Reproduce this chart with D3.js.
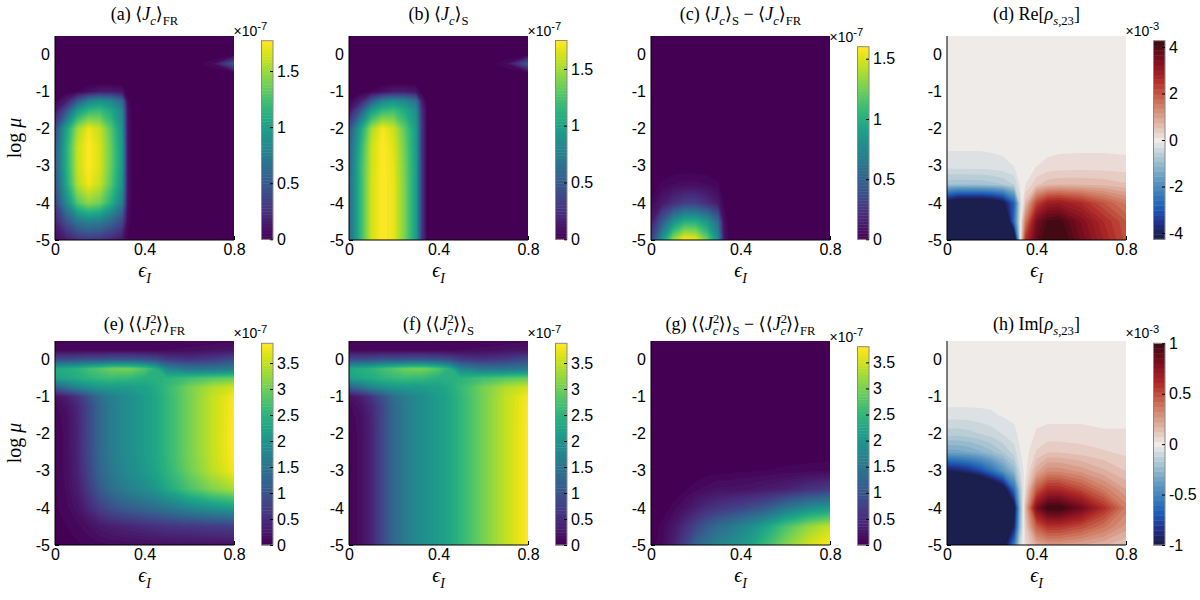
<!DOCTYPE html>
<html>
<head>
<meta charset="utf-8">
<script src="https://cdn.jsdelivr.net/npm/d3@7"></script>
<style>
  body { margin: 0; background: #fff; }
  svg { display: block; }
  .tick text { font-family: "Liberation Sans", Arial, Helvetica, sans-serif; font-size: 16px; fill: #000; }
  .tick line { stroke: #000; }
  .serif { font-family: "Liberation Serif", "DejaVu Serif", serif; fill: #000; }
  .sans { font-family: "Liberation Sans", Arial, Helvetica, sans-serif; fill: #000; }
</style>
</head>
<body>
<svg id="chart" width="1200" height="600"></svg>
<script>
// sample grid of every field: epsilon_I across, log mu down (top row first)
var epsGrid = [0, 0.05, 0.1, 0.15, 0.2, 0.25, 0.3, 0.325, 0.35, 0.4, 0.45, 0.5, 0.6, 0.7, 0.8];
var muGrid = [0.5, 0.25, 0, -0.25, -0.5, -0.75, -1, -1.25, -1.5, -2, -2.5, -3, -3.5, -4, -4.5, -5];

var epsTicks = [0, 0.4, 0.8];
var muTicks = [0, -1, -2, -3, -4, -5];

// (a) <Jc>_FR  (x 1e-7)
var jcFR = [
  [0,0,0,0,0,0,0,0,0,0,0,0,0,0,0],
  [0,0,0,0,0,0,0,0,0,0,0,0,0,0,0],
  [0,0,0,0,0,0,0,0,0,0,0,0,0,0,0],
  [0,0,0,0,0,0,0,0,0,0,0,0,0,0.05,0.5],
  [0,0,0,0,0,0,0,0,0,0,0,0,0,0,0],
  [0,0,0,0,0,0,0,0,0,0,0,0,0,0,0],
  [0,0,0.03,0.08,0.14,0.14,0.1,0,0,0,0,0,0,0,0],
  [0.02,0.15,0.5,0.8,0.88,0.82,0.6,0.05,0,0,0,0,0,0,0],
  [0.1,0.45,0.95,1.15,1.2,1.05,0.8,0.08,0,0,0,0,0,0,0],
  [0.4,1.0,1.5,1.72,1.6,1.3,0.9,0.1,0,0,0,0,0,0,0],
  [0.5,1.1,1.6,1.77,1.65,1.35,0.95,0.1,0,0,0,0,0,0,0],
  [0.5,1.1,1.6,1.76,1.65,1.35,0.95,0.1,0,0,0,0,0,0,0],
  [0.45,1.05,1.55,1.72,1.6,1.3,0.9,0.1,0,0,0,0,0,0,0],
  [0.35,0.85,1.3,1.45,1.38,1.12,0.75,0.08,0,0,0,0,0,0,0],
  [0.18,0.45,0.7,0.8,0.75,0.6,0.4,0.05,0,0,0,0,0,0,0],
  [0.05,0.15,0.25,0.28,0.27,0.2,0.12,0.02,0,0,0,0,0,0,0]
];

// (b) <Jc>_S  (x 1e-7)
var jcS = [
  [0,0,0,0,0,0,0,0,0,0,0,0,0,0,0],
  [0,0,0,0,0,0,0,0,0,0,0,0,0,0,0],
  [0,0,0,0,0,0,0,0,0,0,0,0,0,0,0],
  [0,0,0,0,0,0,0,0,0,0,0,0,0,0.05,0.5],
  [0,0,0,0,0,0,0,0,0,0,0,0,0,0,0],
  [0,0,0,0,0,0,0,0,0,0,0,0,0,0,0],
  [0,0,0.03,0.08,0.14,0.14,0.1,0,0,0,0,0,0,0,0],
  [0.02,0.15,0.5,0.8,0.88,0.82,0.65,0.15,0,0,0,0,0,0,0],
  [0.1,0.45,0.95,1.15,1.2,1.05,0.85,0.25,0,0,0,0,0,0,0],
  [0.45,1.0,1.5,1.72,1.6,1.3,0.95,0.3,0,0,0,0,0,0,0],
  [0.55,1.1,1.6,1.75,1.65,1.35,0.95,0.3,0,0,0,0,0,0,0],
  [0.58,1.15,1.6,1.75,1.67,1.37,0.97,0.3,0,0,0,0,0,0,0],
  [0.6,1.15,1.62,1.75,1.68,1.38,0.97,0.3,0,0,0,0,0,0,0],
  [0.6,1.15,1.62,1.75,1.68,1.38,0.97,0.3,0,0,0,0,0,0,0],
  [0.6,1.15,1.62,1.75,1.68,1.38,0.97,0.3,0,0,0,0,0,0,0],
  [0.6,1.15,1.62,1.75,1.68,1.38,0.97,0.3,0,0,0,0,0,0,0]
];

// (c) <Jc>_S - <Jc>_FR  (x 1e-7)
var jcDiff = [
  [0,0,0,0,0,0,0,0,0,0,0,0,0,0,0],
  [0,0,0,0,0,0,0,0,0,0,0,0,0,0,0],
  [0,0,0,0,0,0,0,0,0,0,0,0,0,0,0],
  [0,0,0,0,0,0,0,0,0,0,0,0,0,0,0],
  [0,0,0,0,0,0,0,0,0,0,0,0,0,0,0],
  [0,0,0,0,0,0,0,0,0,0,0,0,0,0,0],
  [0,0,0,0,0,0,0,0,0,0,0,0,0,0,0],
  [0,0,0,0,0,0,0,0,0,0,0,0,0,0,0],
  [0,0,0,0,0,0,0,0,0,0,0,0,0,0,0],
  [0,0,0,0,0,0,0,0,0,0,0,0,0,0,0],
  [0,0,0,0,0,0,0,0,0,0,0,0,0,0,0],
  [0,0,0,0,0,0,0,0,0,0,0,0,0,0,0],
  [0.01,0.03,0.05,0.06,0.06,0.05,0.03,0,0,0,0,0,0,0,0],
  [0.03,0.12,0.22,0.3,0.3,0.22,0.12,0.02,0,0,0,0,0,0,0],
  [0.12,0.45,0.8,1.0,1.0,0.85,0.55,0.08,0,0,0,0,0,0,0],
  [0.3,0.85,1.35,1.6,1.55,1.25,0.8,0.12,0,0,0,0,0,0,0]
];

// (d) Re[rho_s,23]  (x 1e-3)
var rhoRe = [
  [0,0,0,0,0,0,0,0,0,0,0,0,0,0,0],
  [0,0,0,0,0,0,0,0,0,0,0,0,0,0,0],
  [0,0,0,0,0,0,0,0,0,0,0,0,0,0,0],
  [0,0,0,0,0,0,0,0,0,0,0,0,0,0,0],
  [0,0,0,0,0,0,0,0,0,0,0,0,0,0,0],
  [0,0,0,0,0,0,0,0,0,0,0,0,0,0,0],
  [0,0,0,0,0,0,0,0,0,0,0,0,0,0,0],
  [0,0,0,0,0,0,0,0,0,0,0,0,0,0,0],
  [0,0,0,0,0,0,0,0,0,0,0,0,0,0,0],
  [-0.03,-0.03,-0.03,-0.03,-0.03,-0.03,-0.02,0,0.01,0.02,0.02,0.02,0.02,0.02,0.02],
  [-0.08,-0.08,-0.08,-0.08,-0.07,-0.06,-0.04,0,0.02,0.03,0.05,0.06,0.06,0.06,0.05],
  [-0.2,-0.2,-0.2,-0.2,-0.18,-0.15,-0.1,-0.02,0.03,0.1,0.15,0.18,0.2,0.2,0.18],
  [-0.9,-0.9,-0.9,-0.88,-0.82,-0.72,-0.5,-0.1,0.1,0.45,0.65,0.7,0.7,0.65,0.55],
  [-4.4,-5,-5,-5,-4.8,-4.3,-2.8,-0.5,0.6,2.2,2.9,3.0,2.6,2.0,1.5],
  [-7,-8,-8,-8,-7.5,-6.5,-2.5,-0.3,1.5,3.5,4.1,4.2,3.4,2.6,2.0],
  [-8,-9,-9,-9,-8.5,-7,-5.5,-0.5,2.5,3.8,4.4,4.5,3.6,2.8,2.1]
];

// (e) <<Jc^2>>_FR  (x 1e-7)
var noiseFR = [
  [0.05,0.05,0.05,0.05,0.05,0.05,0.05,0.05,0.05,0.05,0.05,0.05,0.06,0.08,0.1],
  [0.1,0.1,0.1,0.1,0.1,0.1,0.1,0.1,0.1,0.1,0.1,0.12,0.15,0.2,0.25],
  [0.9,0.9,0.95,1.0,1.0,1.05,1.05,1.05,1.05,1.0,0.9,0.7,0.6,0.7,0.9],
  [2.3,2.4,2.5,2.7,2.85,3.0,3.05,3.05,3.0,2.8,2.45,1.8,1.5,1.5,1.6],
  [2.2,2.3,2.4,2.5,2.6,2.65,2.6,2.6,2.55,2.45,2.45,2.5,2.7,2.85,2.95],
  [1.2,1.45,1.75,1.95,2.05,2.1,2.1,2.12,2.15,2.2,2.35,2.6,3.05,3.4,3.6],
  [0.2,0.35,0.6,1.0,1.4,1.65,1.82,1.9,1.97,2.12,2.3,2.55,3.05,3.5,3.82],
  [0.1,0.22,0.45,0.85,1.3,1.6,1.82,1.9,1.97,2.12,2.3,2.55,3.05,3.5,3.85],
  [0.07,0.17,0.42,0.85,1.3,1.6,1.82,1.9,1.97,2.12,2.3,2.55,3.05,3.5,3.85],
  [0.05,0.15,0.4,0.85,1.3,1.6,1.82,1.9,1.97,2.12,2.3,2.55,3.05,3.5,3.87],
  [0.05,0.15,0.4,0.85,1.3,1.6,1.82,1.9,1.97,2.12,2.3,2.55,3.05,3.5,3.87],
  [0.05,0.15,0.38,0.8,1.25,1.55,1.77,1.85,1.92,2.07,2.25,2.5,3.0,3.45,3.8],
  [0.05,0.13,0.32,0.68,1.1,1.38,1.6,1.67,1.75,1.88,2.05,2.3,2.75,3.1,3.35],
  [0.05,0.1,0.22,0.45,0.75,0.95,1.1,1.15,1.2,1.3,1.42,1.55,1.8,2.0,2.15],
  [0.04,0.06,0.1,0.18,0.28,0.35,0.4,0.42,0.45,0.5,0.55,0.6,0.65,0.7,0.75],
  [0.03,0.04,0.05,0.07,0.1,0.12,0.13,0.14,0.14,0.15,0.16,0.17,0.18,0.19,0.2]
];

// (f) <<Jc^2>>_S  (x 1e-7)
var noiseS = [
  [0.05,0.05,0.05,0.05,0.05,0.05,0.05,0.05,0.05,0.05,0.05,0.05,0.06,0.08,0.1],
  [0.1,0.1,0.1,0.1,0.1,0.1,0.1,0.1,0.1,0.1,0.1,0.12,0.15,0.2,0.25],
  [0.9,0.9,0.95,1.0,1.0,1.05,1.05,1.05,1.05,1.0,0.9,0.7,0.6,0.7,0.9],
  [2.3,2.4,2.5,2.7,2.85,3.0,3.05,3.05,3.0,2.8,2.45,1.8,1.5,1.5,1.6],
  [2.2,2.3,2.4,2.5,2.6,2.65,2.6,2.6,2.55,2.45,2.45,2.5,2.7,2.85,2.95],
  [1.2,1.45,1.75,1.95,2.05,2.1,2.1,2.12,2.15,2.2,2.35,2.6,3.05,3.4,3.6],
  [0.2,0.35,0.6,1.0,1.4,1.65,1.82,1.9,1.97,2.12,2.3,2.55,3.05,3.5,3.82],
  [0.1,0.22,0.45,0.85,1.3,1.6,1.82,1.9,1.97,2.12,2.3,2.55,3.05,3.5,3.85],
  [0.07,0.17,0.42,0.85,1.3,1.6,1.82,1.9,1.97,2.12,2.3,2.55,3.05,3.5,3.85],
  [0.05,0.15,0.4,0.85,1.3,1.6,1.82,1.9,1.97,2.12,2.3,2.55,3.05,3.5,3.87],
  [0.05,0.15,0.4,0.85,1.3,1.6,1.82,1.9,1.97,2.12,2.3,2.55,3.05,3.5,3.87],
  [0.05,0.15,0.4,0.85,1.3,1.6,1.82,1.9,1.97,2.12,2.3,2.55,3.05,3.5,3.87],
  [0.05,0.15,0.4,0.85,1.3,1.6,1.82,1.9,1.97,2.12,2.3,2.55,3.05,3.5,3.87],
  [0.05,0.15,0.4,0.85,1.3,1.6,1.82,1.9,1.97,2.12,2.3,2.55,3.05,3.5,3.87],
  [0.05,0.15,0.4,0.85,1.3,1.6,1.82,1.9,1.97,2.12,2.3,2.55,3.05,3.5,3.87],
  [0.05,0.15,0.4,0.85,1.3,1.6,1.82,1.9,1.97,2.12,2.3,2.55,3.05,3.5,3.87]
];

// (g) <<Jc^2>>_S - <<Jc^2>>_FR  (x 1e-7)
var noiseDiff = [
  [0,0,0,0,0,0,0,0,0,0,0,0,0,0,0],
  [0,0,0,0,0,0,0,0,0,0,0,0,0,0,0],
  [0,0,0,0,0,0,0,0,0,0,0,0,0,0,0],
  [0,0,0,0,0,0,0,0,0,0,0,0,0,0,0],
  [0,0,0,0,0,0,0,0,0,0,0,0,0,0,0],
  [0,0,0,0,0,0,0,0,0,0,0,0,0,0,0],
  [0,0,0,0,0,0,0,0,0,0,0,0,0,0,0],
  [0,0,0,0,0,0,0,0,0,0,0,0,0,0,0],
  [0,0,0,0,0,0,0,0,0,0,0,0,0,0,0],
  [0,0,0,0,0,0,0,0,0,0,0,0,0,0,0],
  [0,0,0,0,0,0,0,0,0,0,0,0,0,0,0],
  [0,0,0,0,0,0.02,0.03,0.03,0.04,0.05,0.05,0.06,0.08,0.1,0.12],
  [0,0,0.02,0.05,0.1,0.15,0.2,0.2,0.2,0.22,0.25,0.28,0.38,0.55,0.7],
  [0,0.02,0.08,0.2,0.35,0.5,0.6,0.65,0.7,0.8,0.92,1.05,1.5,1.85,2.05],
  [0.01,0.08,0.25,0.5,0.8,1.1,1.35,1.42,1.5,1.7,1.9,2.15,2.7,3.15,3.45],
  [0.02,0.11,0.35,0.75,1.2,1.48,1.7,1.77,1.83,2.0,2.2,2.5,3.05,3.5,3.78]
];

// (h) Im[rho_s,23]  (x 1e-3)
var rhoIm = [
  [0,0,0,0,0,0,0,0,0,0,0,0,0,0,0],
  [0,0,0,0,0,0,0,0,0,0,0,0,0,0,0],
  [0,0,0,0,0,0,0,0,0,0,0,0,0,0,0],
  [0,0,0,0,0,0,0,0,0,0,0,0,0,0,0],
  [0,0,0,0,0,0,0,0,0,0,0,0,0,0,0],
  [0,0,0,0,0,0,0,0,0,0,0,0,0,0,0],
  [0,0,0,0,0,0,0,0,0,0,0,0,0,0,0],
  [-0.02,-0.02,-0.02,-0.02,-0.02,-0.01,-0.01,0,0,0,0,0,0,0,0],
  [-0.05,-0.05,-0.05,-0.04,-0.03,-0.02,-0.01,0,0,0.01,0.01,0.01,0.01,0.01,0.01],
  [-0.15,-0.15,-0.14,-0.12,-0.1,-0.07,-0.04,-0.01,0,0.03,0.04,0.04,0.04,0.03,0.03],
  [-0.35,-0.34,-0.32,-0.28,-0.23,-0.17,-0.1,-0.03,0,0.08,0.12,0.12,0.1,0.08,0.06],
  [-0.95,-0.92,-0.85,-0.75,-0.6,-0.42,-0.25,-0.08,0,0.2,0.3,0.3,0.25,0.18,0.12],
  [-1.6,-1.6,-1.55,-1.45,-1.3,-1.1,-0.6,-0.2,0.05,0.45,0.62,0.62,0.5,0.35,0.22],
  [-2,-2,-2,-1.9,-1.7,-1.5,-1.05,-0.3,0.15,0.8,1.0,1.02,0.85,0.6,0.35],
  [-2,-2,-2,-1.9,-1.7,-1.45,-0.9,-0.25,0.1,0.45,0.58,0.58,0.5,0.38,0.25],
  [-1.8,-1.8,-1.75,-1.6,-1.4,-1.1,-0.55,-0.1,0.05,0.2,0.25,0.25,0.22,0.18,0.12]
];

// colour limits, colourbar ticks and exponent of each panel (a..h)
var colorRanges = [[0, 1.77], [0, 1.75], [0, 1.6], [-4.27, 4.27], [0, 3.88], [0, 3.88], [0, 3.8], [-1, 1]];
var colorTicks = [
  [0, 0.5, 1, 1.5], [0, 0.5, 1, 1.5], [0, 0.5, 1, 1.5], [-4, -2, 0, 2, 4],
  [0, 0.5, 1, 1.5, 2, 2.5, 3, 3.5], [0, 0.5, 1, 1.5, 2, 2.5, 3, 3.5],
  [0, 0.5, 1, 1.5, 2, 2.5, 3, 3.5], [-1, -0.5, 0, 0.5, 1]
];
var exponents = ["-7", "-7", "-7", "-3", "-7", "-7", "-7", "-3"];

// titles as [text, style, dx] pieces; style: i italic, sub, isub, sup
var titles = [
  [["(a) \u27E8"], ["J", "i"], ["c", "isub"], ["\u27E9"], ["FR", "sub"]],
  [["(b) \u27E8"], ["J", "i"], ["c", "isub"], ["\u27E9"], ["S", "sub"]],
  [["(c) \u27E8"], ["J", "i"], ["c", "isub"], ["\u27E9"], ["S", "sub"], [" \u2212 \u27E8"], ["J", "i"], ["c", "isub"], ["\u27E9"], ["FR", "sub"]],
  [["(d) Re["], ["\u03C1", "i"], ["s", "isub"], [",23", "sub"], ["]"]],
  [["(e) \u27E8\u27E8"], ["J", "i"], ["2", "sup"], ["c", "isub", -6.5], ["\u27E9\u27E9"], ["FR", "sub"]],
  [["(f) \u27E8\u27E8"], ["J", "i"], ["2", "sup"], ["c", "isub", -6.5], ["\u27E9\u27E9"], ["S", "sub"]],
  [["(g) \u27E8\u27E8"], ["J", "i"], ["2", "sup"], ["c", "isub", -6.5], ["\u27E9\u27E9"], ["S", "sub"], [" \u2212 \u27E8\u27E8"], ["J", "i"], ["2", "sup"], ["c", "isub", -6.5], ["\u27E9\u27E9"], ["FR", "sub"]],
  [["(h) Im["], ["\u03C1", "i"], ["s", "isub"], [",23", "sub"], ["]"]]
];

var fields = [jcFR, jcS, jcDiff, rhoRe, noiseFR, noiseS, noiseDiff, rhoIm];

// layout
var plotW = 179, plotH = 204;
var colX = [55, 349, 651, 947];
var rowY = [36, 341];
var titleY = [20, 330];
var cbTop = [40.7, 40.5, 46.7, 40.7, 343.3, 343.3, 346.7, 343.3];
var cbBottom = [239.3, 545];

var svg = d3.select("#chart");
var defs = svg.append("defs");

// diverging map close to cmocean "balance"
var balance = d3.scaleLinear()
    .domain([0, 0.08, 0.15, 0.22, 0.3, 0.4, 0.5, 0.6, 0.7, 0.8, 0.9, 1])
    .range(["#181c43", "#242f85", "#1c58b4", "#3679b8", "#5f98c0", "#a6c2d1",
            "#efebe9", "#ddab9c", "#cb6d53", "#b02a27", "#7e0e20", "#3c0912"])
    .interpolate(d3.interpolateRgb);

// writes LaTeX-ish pieces into a text element as tspans
function addRich(text, parts, size, small) {
    var cur = 0;
    small = small || 0.7;
    parts.forEach(function(p) {
        var kind = p[1] || "";
        var isSub = kind.indexOf("sub") >= 0, isSup = kind === "sup";
        var off = isSub ? size * 0.28 : isSup ? -size * 0.4 : 0;
        var ts = text.append("tspan").text(p[0]).attr("dy", off - cur);
        if (p[2]) ts.attr("dx", p[2]);
        if (isSub || isSup) ts.attr("font-size", size * small);
        if (kind[0] === "i") ts.attr("font-style", "italic");
        cur = off;
    });
}

fields.forEach(function(field, p) {
    var col = p % 4, row = Math.floor(p / 4);
    var left = colX[col], top = rowY[row];
    var lo = colorRanges[p][0], hi = colorRanges[p][1];
    var diverging = lo < 0;
    var nBands = diverging ? 41 : 64;
    var step = (hi - lo) / nBands;
    var bandColor = function(k) {
        return diverging ? balance((k + 0.5) / nBands) : d3.interpolateViridis(k / (nBands - 1));
    };

    var x = d3.scaleLinear().domain([0, 0.8]).range([left, left + plotW]);
    var y = d3.scaleLinear().domain([-5, 0.5]).range([top + plotH, top]);

    var g = svg.append("g");

    // axes go under the image, like MATLAB's default layer
    g.append("g")
        .attr("transform", "translate(0," + (top + plotH) + ")")
        .call(d3.axisBottom(x).tickValues(epsTicks).tickSizeInner(-4).tickSizeOuter(0)
            .tickPadding(4).tickFormat(String))
        .call(function(a) { a.select(".domain").remove(); });
    g.append("g")
        .attr("transform", "translate(" + left + ",0)")
        .call(d3.axisLeft(y).tickValues(muTicks).tickSizeInner(-4).tickSizeOuter(0)
            .tickPadding(5).tickFormat(String))
        .call(function(a) { a.select(".domain").remove(); });

    // filled contour image
    defs.append("clipPath").attr("id", "clip" + p)
      .append("rect")
        .attr("x", left).attr("y", top)
        .attr("width", plotW).attr("height", plotH);

    var img = g.append("g").attr("clip-path", "url(#clip" + p + ")");
    img.append("rect")
        .attr("x", left).attr("y", top)
        .attr("width", plotW).attr("height", plotH)
        .attr("fill", bandColor(0));

    var thresholds = d3.range(nBands).map(function(k) { return lo + k * step; });
    var contours = d3.contours()
        .size([epsGrid.length, muGrid.length])
        .thresholds(thresholds)(field.flat());

    // grid index -> data value (grid is not evenly spaced)
    var ix = d3.scaleLinear().domain(d3.range(epsGrid.length)).range(epsGrid);
    var iy = d3.scaleLinear().domain(d3.range(muGrid.length)).range(muGrid);
    var path = d3.geoPath(d3.geoTransform({
        point: function(px, py) { this.stream.point(x(ix(px - 0.5)), y(iy(py - 0.5))); }
    }));

    img.selectAll("path")
        .data(contours)
        .join("path")
        .attr("d", path)
        .attr("fill-rule", "evenodd")
        .attr("fill", function(d, k) { return bandColor(k); });

    // left and bottom axis lines on top
    g.append("path")
        .attr("d", "M" + left + "," + top + "V" + (top + plotH) + "H" + (left + plotW))
        .attr("fill", "none")
        .attr("stroke", "#000")
        .attr("stroke-width", 1);

    // title
    var t = g.append("text")
        .attr("class", "serif")
        .attr("x", left + plotW / 2)
        .attr("y", titleY[row])
        .attr("text-anchor", "middle")
        .attr("font-size", 18);
    addRich(t, titles[p], 18);

    // x label
    var xl = g.append("text")
        .attr("class", "serif")
        .attr("x", left + plotW / 2)
        .attr("y", top + plotH + 37)
        .attr("text-anchor", "middle")
        .attr("font-size", 20);
    addRich(xl, [["\u03F5", "i"], ["I", "isub"]], 20);

    // y label on the first column only
    if (col === 0) {
        var yl = g.append("text")
            .attr("class", "serif")
            .attr("transform", "translate(21," + (top + plotH / 2) + ") rotate(-90)")
            .attr("text-anchor", "middle")
            .attr("font-size", 20);
        addRich(yl, [["log "], ["\u03BC", "i"]], 20);
    }

    // colourbar
    var cbx = left + plotW + 27.5, cbw = 11.5;
    var cy = d3.scaleLinear().domain([lo, hi]).range([cbBottom[row], cbTop[p]]);
    var cb = svg.append("g");
    cb.selectAll("rect.band")
        .data(d3.range(nBands))
        .join("rect")
        .attr("class", "band")
        .attr("x", cbx)
        .attr("width", cbw)
        .attr("y", function(k) { return cy(lo + (k + 1) * step); })
        .attr("height", function(k) { return cy(lo + k * step) - cy(lo + (k + 1) * step) + 0.4; })
        .attr("fill", bandColor);
    cb.append("rect")
        .attr("x", cbx).attr("y", cbTop[p])
        .attr("width", cbw).attr("height", cbBottom[row] - cbTop[p])
        .attr("fill", "none")
        .attr("stroke", "#8a8a8a")
        .attr("stroke-width", 1);
    cb.append("g")
        .attr("transform", "translate(" + (cbx + cbw) + ",0)")
        .call(d3.axisRight(cy).tickValues(colorTicks[p]).tickSizeInner(-3).tickSizeOuter(0)
            .tickPadding(4).tickFormat(String))
        .call(function(a) { a.select(".domain").remove(); });

    var ex = cb.append("text")
        .attr("class", "sans")
        .attr("x", cbx - 28)
        .attr("y", cbTop[p] - 5)
        .attr("font-size", 14);
    addRich(ex, [["\u00D710"], [exponents[p], "sup"]], 14, 0.8);
});
</script>
</body>
</html>
